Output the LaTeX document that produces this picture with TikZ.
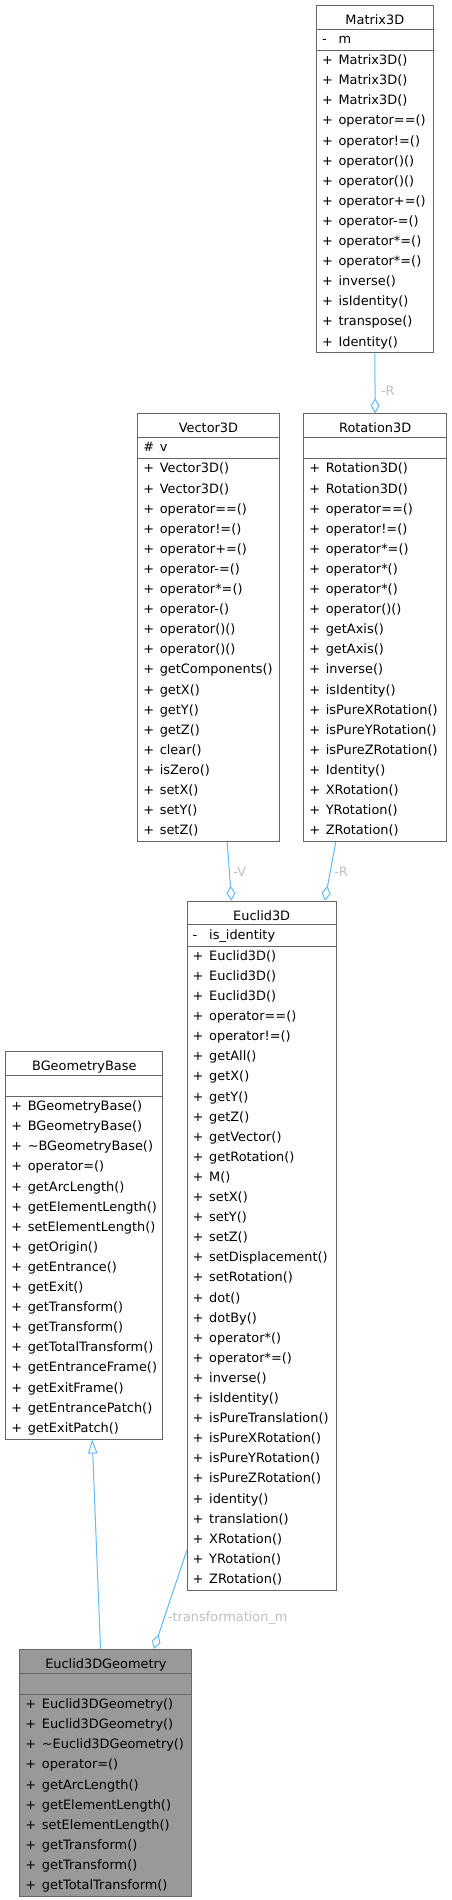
\documentclass[tikz,border=0pt]{standalone}
\usepackage{fontspec}
\setmainfont{DejaVu Sans}
\usepackage{tikz}
\usetikzlibrary{shapes.multipart,arrows.meta}
\usepackage{xcolor}

\definecolor{edgeblue}{HTML}{63B8FF}
\definecolor{boxline}{HTML}{666666}
\definecolor{lblgrey}{HTML}{BEBEBE}
\definecolor{hlfill}{HTML}{999999}

\newcommand{\rowstrut}{\rule[-6.3pt]{0pt}{20.1pt}}
\newcommand{\titlestrut}{\rule[-4.4pt]{0pt}{22.7pt}}
\newcommand{\vis}[1]{\rowstrut\makebox[16.5pt][l]{#1}}

\begin{document}
\begin{tikzpicture}[x=1pt,y=-1pt,
    cls/.style={rectangle split,rectangle split parts=3,draw=boxline,line width=1pt,fill=white,
      rectangle split part align={center,left,left},align=left,anchor=north west,
      inner xsep=5.5pt,inner ysep=0pt,font=\fontsize{12.9}{20.1}\selectfont},
    aggr/.style={draw=edgeblue,line width=1pt,-{Diamond[open,length=15pt,width=9pt]}},
    inherit/.style={draw=edgeblue,line width=1pt,-{Triangle[open,length=14pt,width=9.5pt]}},
    lbl/.style={text=lblgrey,font=\fontsize{12.9}{15}\selectfont,inner sep=3.5pt}]

\useasboundingbox (0,0) rectangle (451,1900);

\node[cls,minimum width=116.7pt] (mat) at (316,5) {\titlestrut Matrix3D
  \nodepart{two}\vis{-}m
  \nodepart{three}\vis{+}Matrix3D()\\ \vis{+}Matrix3D()\\ \vis{+}Matrix3D()\\
  \vis{+}operator==()\\ \vis{+}operator!=()\\ \vis{+}operator()()\\ \vis{+}operator()()\\
  \vis{+}operator+=()\\ \vis{+}operator-=()\\ \vis{+}operator*=()\\ \vis{+}operator*=()\\
  \vis{+}inverse()\\ \vis{+}isIdentity()\\ \vis{+}transpose()\\ \vis{+}Identity()};

\node[cls,minimum width=141.4pt] (vec) at (137.3,413.3) {\titlestrut Vector3D
  \nodepart{two}\vis{\#}v
  \nodepart{three}\vis{+}Vector3D()\\ \vis{+}Vector3D()\\ \vis{+}operator==()\\
  \vis{+}operator!=()\\ \vis{+}operator+=()\\ \vis{+}operator-=()\\ \vis{+}operator*=()\\
  \vis{+}operator-()\\ \vis{+}operator()()\\ \vis{+}operator()()\\ \vis{+}getComponents()\\
  \vis{+}getX()\\ \vis{+}getY()\\ \vis{+}getZ()\\ \vis{+}clear()\\ \vis{+}isZero()\\
  \vis{+}setX()\\ \vis{+}setY()\\ \vis{+}setZ()};

\node[cls,minimum width=142.7pt] (rot) at (303.3,413.3) {\titlestrut Rotation3D
  \nodepart{two}\rowstrut
  \nodepart{three}\vis{+}Rotation3D()\\ \vis{+}Rotation3D()\\ \vis{+}operator==()\\
  \vis{+}operator!=()\\ \vis{+}operator*=()\\ \vis{+}operator*()\\ \vis{+}operator*()\\
  \vis{+}operator()()\\ \vis{+}getAxis()\\ \vis{+}getAxis()\\ \vis{+}inverse()\\
  \vis{+}isIdentity()\\ \vis{+}isPureXRotation()\\ \vis{+}isPureYRotation()\\
  \vis{+}isPureZRotation()\\ \vis{+}Identity()\\ \vis{+}XRotation()\\ \vis{+}YRotation()\\
  \vis{+}ZRotation()};

\node[cls,minimum width=149pt] (euc) at (186.7,900.7) {\titlestrut Euclid3D
  \nodepart{two}\vis{-}is\_identity
  \nodepart{three}\vis{+}Euclid3D()\\ \vis{+}Euclid3D()\\ \vis{+}Euclid3D()\\
  \vis{+}operator==()\\ \vis{+}operator!=()\\ \vis{+}getAll()\\ \vis{+}getX()\\
  \vis{+}getY()\\ \vis{+}getZ()\\ \vis{+}getVector()\\ \vis{+}getRotation()\\ \vis{+}M()\\
  \vis{+}setX()\\ \vis{+}setY()\\ \vis{+}setZ()\\ \vis{+}setDisplacement()\\
  \vis{+}setRotation()\\ \vis{+}dot()\\ \vis{+}dotBy()\\ \vis{+}operator*()\\
  \vis{+}operator*=()\\ \vis{+}inverse()\\ \vis{+}isIdentity()\\ \vis{+}isPureTranslation()\\
  \vis{+}isPureXRotation()\\ \vis{+}isPureYRotation()\\ \vis{+}isPureZRotation()\\
  \vis{+}identity()\\ \vis{+}translation()\\ \vis{+}XRotation()\\ \vis{+}YRotation()\\
  \vis{+}ZRotation()};

\node[cls,minimum width=157pt] (bgb) at (5.3,1051) {\titlestrut BGeometryBase
  \nodepart{two}\rowstrut
  \nodepart{three}\vis{+}BGeometryBase()\\ \vis{+}BGeometryBase()\\
  \vis{+}\textasciitilde BGeometryBase()\\ \vis{+}operator=()\\ \vis{+}getArcLength()\\
  \vis{+}getElementLength()\\ \vis{+}setElementLength()\\ \vis{+}getOrigin()\\
  \vis{+}getEntrance()\\ \vis{+}getExit()\\ \vis{+}getTransform()\\ \vis{+}getTransform()\\
  \vis{+}getTotalTransform()\\ \vis{+}getEntranceFrame()\\ \vis{+}getExitFrame()\\
  \vis{+}getEntrancePatch()\\ \vis{+}getExitPatch()};

\node[cls,fill=hlfill,minimum width=172pt] (e3g) at (19.4,1649) {\titlestrut Euclid3DGeometry
  \nodepart{two}\rowstrut
  \nodepart{three}\vis{+}Euclid3DGeometry()\\ \vis{+}Euclid3DGeometry()\\
  \vis{+}\textasciitilde Euclid3DGeometry()\\ \vis{+}operator=()\\ \vis{+}getArcLength()\\
  \vis{+}getElementLength()\\ \vis{+}setElementLength()\\ \vis{+}getTransform()\\
  \vis{+}getTransform()\\ \vis{+}getTotalTransform()};

% connectors
\draw[aggr] (mat.south) -- node[lbl,pos=.63,right,xshift=2pt] (lbmr) {-R} (rot.north);
\draw[aggr] ([xshift=18.7pt]vec.south) -- node[lbl,pos=.5,right] (lbve) {-V} ([xshift=-30.2pt]euc.north);
\draw[aggr] ([xshift=-39.4pt]rot.south) -- node[lbl,pos=.5,right] (lbre) {-R} ([xshift=63.1pt]euc.north);
\draw[inherit] ([xshift=-5.4pt]e3g.north) -- ([xshift=7.9pt]bgb.south);
\draw[aggr] ([yshift=40pt]euc.south west) -- node[lbl,pos=.69,right] (lbeg) {-transformation\_m} ([xshift=47.9pt]e3g.north);

\end{tikzpicture}
\end{document}
